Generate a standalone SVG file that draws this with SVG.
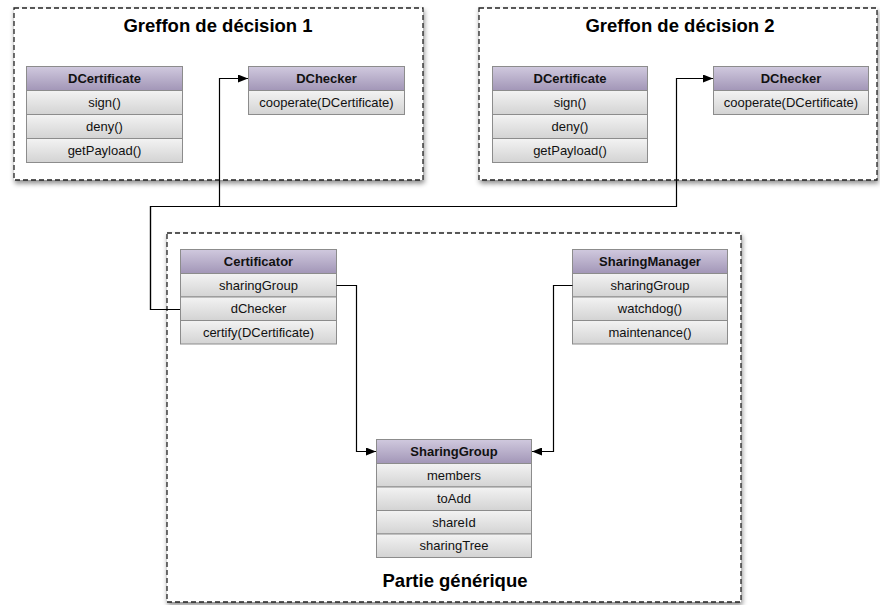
<svg xmlns="http://www.w3.org/2000/svg" width="880" height="605" viewBox="0 0 880 605">
<style>
.cont{fill:#fff;stroke:#222;stroke-width:1.3;stroke-dasharray:5 3;filter:url(#sh)}
.title{font-family:"Liberation Sans",Arial,sans-serif;font-weight:bold;font-size:18.5px;fill:#000;text-anchor:middle}
.hd{fill:url(#gh);stroke:#8c8c8c;stroke-width:1}
.rw{fill:url(#gr);stroke:#8c8c8c;stroke-width:1}
.ht{font-family:"Liberation Sans",Arial,sans-serif;font-weight:bold;font-size:13px;fill:#111;text-anchor:middle}
.rt{font-family:"Liberation Sans",Arial,sans-serif;font-size:13px;fill:#111;text-anchor:middle}
.con{fill:none;stroke:#000;stroke-width:1.2}
</style>
<defs>
<linearGradient id="gh" x1="0" y1="0" x2="0" y2="1"><stop offset="0" stop-color="#d0c9de"/><stop offset="1" stop-color="#a296b7"/></linearGradient>
<linearGradient id="gr" x1="0" y1="0" x2="0" y2="1"><stop offset="0" stop-color="#f3f3f3"/><stop offset="1" stop-color="#d3d3d3"/></linearGradient>
<filter id="sh" x="-5%" y="-5%" width="110%" height="115%"><feDropShadow dx="1" dy="3" stdDeviation="2.5" flood-color="#000" flood-opacity="0.45"/></filter>
<marker id="ar" viewBox="0 0 10 8" refX="10" refY="4" markerWidth="10" markerHeight="8" markerUnits="userSpaceOnUse" orient="auto"><path d="M0,0 L10,4 L0,8 z" fill="#000"/></marker>
</defs>

<g id="greffon1">
<rect class="cont" x="14" y="8" width="409" height="172"/>
<text class="title" x="218" y="32">Greffon de décision 1</text>
</g>
<g id="greffon2">
<rect class="cont" x="479" y="8" width="398" height="172"/>
<text class="title" x="680" y="32">Greffon de décision 2</text>
</g>
<g id="partie">
<rect class="cont" x="167" y="233" width="574" height="369"/>
<text class="title" x="455" y="587">Partie générique</text>
</g>

<g id="dcertificate1">
<rect class="hd" x="26.5" y="66.5" width="156" height="24"/><text class="ht" x="104.5" y="83">DCertificate</text>
<rect class="rw" x="26.5" y="90.5" width="156" height="24"/><text class="rt" x="104.5" y="107">sign()</text>
<rect class="rw" x="26.5" y="114.5" width="156" height="24"/><text class="rt" x="104.5" y="131">deny()</text>
<rect class="rw" x="26.5" y="138.5" width="156" height="24"/><text class="rt" x="104.5" y="155">getPayload()</text>
</g>
<g id="dchecker1">
<rect class="hd" x="248.5" y="66.5" width="156" height="24"/><text class="ht" x="326.5" y="83">DChecker</text>
<rect class="rw" x="248.5" y="90.5" width="156" height="24"/><text class="rt" x="326.5" y="107">cooperate(DCertificate)</text>
</g>

<g id="dcertificate2">
<rect class="hd" x="492.5" y="66.5" width="155" height="24"/><text class="ht" x="570" y="83">DCertificate</text>
<rect class="rw" x="492.5" y="90.5" width="155" height="24"/><text class="rt" x="570" y="107">sign()</text>
<rect class="rw" x="492.5" y="114.5" width="155" height="24"/><text class="rt" x="570" y="131">deny()</text>
<rect class="rw" x="492.5" y="138.5" width="155" height="24"/><text class="rt" x="570" y="155">getPayload()</text>
</g>
<g id="dchecker2">
<rect class="hd" x="713.5" y="66.5" width="155" height="24"/><text class="ht" x="791" y="83">DChecker</text>
<rect class="rw" x="713.5" y="90.5" width="155" height="24"/><text class="rt" x="791" y="107">cooperate(DCertificate)</text>
</g>

<g id="certificator">
<rect class="hd" x="180.5" y="249.5" width="156" height="24"/><text class="ht" x="258.5" y="266">Certificator</text>
<rect class="rw" x="180.5" y="273.5" width="156" height="23.5"/><text class="rt" x="258.5" y="289.5">sharingGroup</text>
<rect class="rw" x="180.5" y="297" width="156" height="23.5"/><text class="rt" x="258.5" y="313">dChecker</text>
<rect class="rw" x="180.5" y="320.5" width="156" height="23.5"/><text class="rt" x="258.5" y="336.5">certify(DCertificate)</text>
</g>

<g id="sharingmanager">
<rect class="hd" x="572.5" y="249.5" width="155" height="24"/><text class="ht" x="650" y="266">SharingManager</text>
<rect class="rw" x="572.5" y="273.5" width="155" height="23.5"/><text class="rt" x="650" y="289.5">sharingGroup</text>
<rect class="rw" x="572.5" y="297" width="155" height="23.5"/><text class="rt" x="650" y="313">watchdog()</text>
<rect class="rw" x="572.5" y="320.5" width="155" height="23.5"/><text class="rt" x="650" y="336.5">maintenance()</text>
</g>

<g id="sharinggroup">
<rect class="hd" x="376.5" y="439.5" width="155" height="24"/><text class="ht" x="454" y="456">SharingGroup</text>
<rect class="rw" x="376.5" y="463.5" width="155" height="23.5"/><text class="rt" x="454" y="479.5">members</text>
<rect class="rw" x="376.5" y="487" width="155" height="23.5"/><text class="rt" x="454" y="503">toAdd</text>
<rect class="rw" x="376.5" y="510.5" width="155" height="23.5"/><text class="rt" x="454" y="526.5">shareId</text>
<rect class="rw" x="376.5" y="534" width="155" height="23.5"/><text class="rt" x="454" y="550">sharingTree</text>
</g>

<g id="connectors">
<path class="con" d="M180,309.5 H150.5 V206.5 H219.5 V78.5 H248" marker-end="url(#ar)"/>
<path class="con" d="M180,309.5 H150.5 V206.5 H676.5 V78.5 H713" marker-end="url(#ar)"/>
<path class="con" d="M336.5,285.5 H356.5 V451.5 H376" marker-end="url(#ar)"/>
<path class="con" d="M572.5,285.5 H553.5 V451.5 H532" marker-end="url(#ar)"/>
</g>
</svg>
